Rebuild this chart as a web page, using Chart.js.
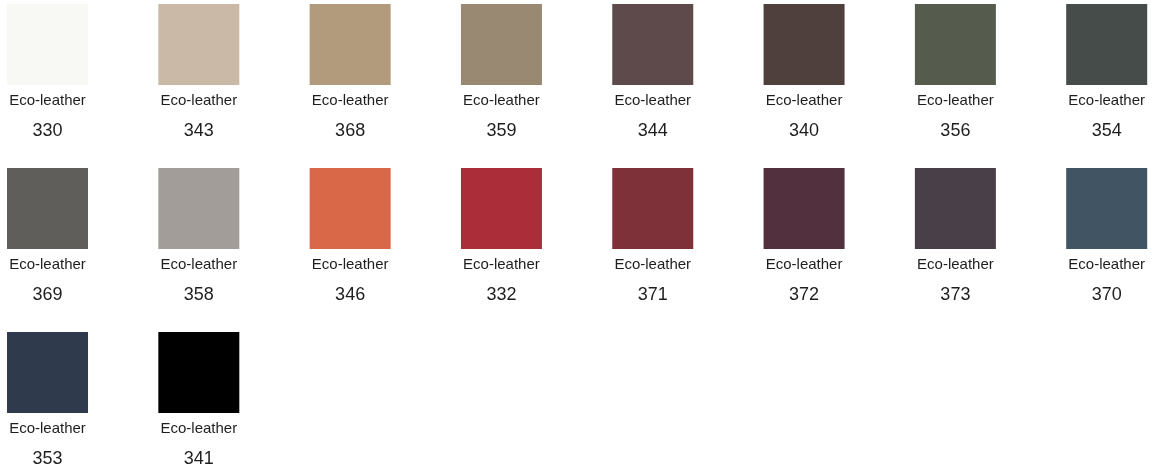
<!DOCTYPE html>
<html>
<head>
<meta charset="utf-8">
<script src="https://cdn.jsdelivr.net/npm/chart.js@4.4.0/dist/chart.umd.min.js"></script>
<style>
  html, body { margin: 0; padding: 0; background: #fff; }
  #wrap { width: 1153px; height: 468px; }
</style>
</head>
<body>
<div id="wrap"><canvas id="swatches"></canvas></div>
<script>
// Swatch data
const material = 'Eco-leather';
const codes = ['330', '343', '368', '359', '344', '340', '356', '354',
               '369', '358', '346', '332', '371', '372', '373', '370',
               '353', '341'];
const swatchColors = ['#f8f8f4', '#cbb9a7', '#b29b7c', '#998872', '#5e4a4a', '#4f403d', '#555c4d', '#464c4a',
                      '#5f5e5b', '#a29d98', '#d96848', '#ab2d3a', '#7e3138', '#52303d', '#483f49', '#405464',
                      '#2f3b4c', '#000000'];
const perRow = 8;

(() => {
  const points = codes.map((c, i) => ({ x: i % perRow, y: Math.floor(i / perRow), code: c }));

  // captions under each swatch
  const labelPlugin = {
    id: 'swatchLabels',
    afterDatasetsDraw(chart) {
      const { ctx, scales: { x, y } } = chart;
      ctx.save();
      ctx.fillStyle = '#1e1e1e';
      ctx.textAlign = 'center';
      ctx.textBaseline = 'middle';
      points.forEach(p => {
        const px = x.getPixelForValue(p.x);
        const py = y.getPixelForValue(p.y);
        ctx.font = '15px "Liberation Sans", Arial, sans-serif';
        ctx.fillText(material, px, py + 56);
        ctx.font = '18px "Liberation Sans", Arial, sans-serif';
        ctx.fillText(p.code, px, py + 87);
      });
      ctx.restore();
    }
  };

  const ctx = document.getElementById('swatches').getContext('2d');
  new Chart(ctx, {
    type: 'scatter',
    data: {
      datasets: [{
        data: points,
        pointStyle: 'rect',
        pointRadius: 81 / Math.SQRT2,
        pointHoverRadius: 81 / Math.SQRT2,
        backgroundColor: swatchColors,
        borderWidth: 0,
        clip: false
      }]
    },
    options: {
      responsive: true,
      maintainAspectRatio: false,
      animation: false,
      events: [],
      layout: { padding: 0, autoPadding: false },
      plugins: { legend: { display: false }, tooltip: { enabled: false } },
      scales: {
        x: { type: 'linear', display: false, min: -0.314, max: 7.306 },
        y: { type: 'linear', display: false, reverse: true, min: -0.271, max: 2.583 }
      }
    },
    plugins: [labelPlugin]
  });
})();
</script>
</body>
</html>
